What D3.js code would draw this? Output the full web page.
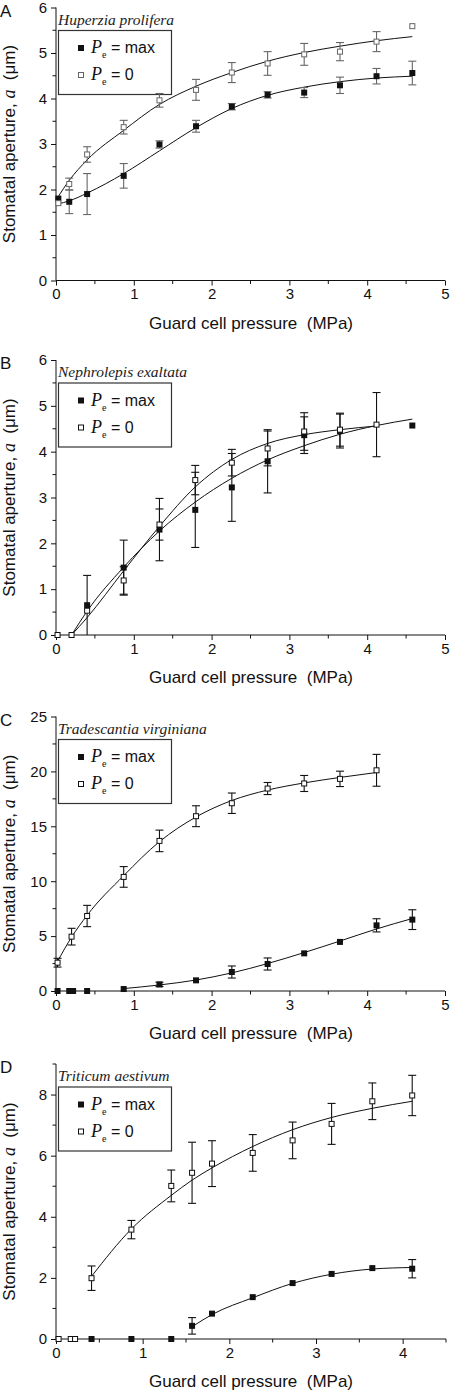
<!DOCTYPE html>
<html><head><meta charset="utf-8">
<script src="https://cdn.jsdelivr.net/npm/d3@7"></script>
<style>
html,body{margin:0;padding:0;background:#fff;}
svg{display:block;}
</style></head>
<body>
<svg id="chart" width="450" height="1392"></svg>
<script>
// ---------- Panel A: Huperzia prolifera ----------
const xA      = [0.03, 0.17, 0.40, 0.87, 1.33, 1.80, 2.26, 2.72, 3.19, 3.65, 4.12, 4.58];
const maxA    = [1.80, 1.73, 1.90, 2.30, 2.99, 3.39, 3.82, 4.08, 4.13, 4.29, 4.49, 4.56];
const maxErrA = [0, 0.26, 0.45, 0.27, 0.08, 0.13, 0.07, 0.07, 0.11, 0.18, 0.17, 0.26];
const zeroA   = [1.70, 2.12, 2.77, 3.37, 3.96, 4.19, 4.57, 4.77, 4.97, 5.03, 5.25, 5.59];
const zeroErrA= [0, 0.13, 0.17, 0.15, 0.15, 0.23, 0.22, 0.26, 0.24, 0.20, 0.22, 0];
const fitXA   = [0.02, 0.17, 0.40, 0.87, 1.33, 1.80, 2.26, 2.72, 3.19, 3.65, 4.12, 4.58];
const fitMaxA = [1.68, 1.75, 1.92, 2.35, 2.85, 3.36, 3.78, 4.07, 4.25, 4.37, 4.45, 4.49];
const fitZeroA= [1.82, 2.20, 2.65, 3.30, 3.87, 4.27, 4.57, 4.82, 5.01, 5.15, 5.27, 5.36];

// ---------- Panel B: Nephrolepis exaltata ----------
const xMaxB    = [0.40, 0.87, 1.33, 1.79, 2.26, 2.72, 3.19, 3.65, 4.58];
const maxB     = [0.65, 1.47, 2.30, 2.73, 3.22, 3.79, 4.36, 4.45, 4.57];
const maxErrB  = [0.65, 0.60, 0.68, 0.82, 0.74, 0.69, 0.40, 0.37, 0];
const xZeroB   = [0.02, 0.20, 0.40, 0.87, 1.33, 1.79, 2.26, 2.72, 3.19, 3.65, 4.12];
const zeroB    = [0, 0, 0.53, 1.19, 2.41, 3.38, 3.76, 4.07, 4.44, 4.48, 4.59];
const zeroErrB = [0, 0, 0, 0.30, 0.34, 0.32, 0.29, 0.38, 0.41, 0.36, 0.70];
const fitXMaxB = [0.20, 0.40, 0.87, 1.33, 1.79, 2.26, 2.72, 3.19, 3.65, 4.12, 4.58];
const fitMaxB  = [0.00, 0.52, 1.48, 2.27, 2.90, 3.42, 3.82, 4.13, 4.38, 4.57, 4.71];
const fitXZeroB= [0.20, 0.40, 0.87, 1.33, 1.79, 2.26, 2.72, 3.19, 3.65, 4.12];
const fitZeroB = [0.00, 0.38, 1.40, 2.37, 3.23, 3.83, 4.18, 4.37, 4.48, 4.56];

// ---------- Panel C: Tradescantia virginiana ----------
const xMaxC    = [0.02, 0.17, 0.22, 0.40, 0.87, 1.33, 1.80, 2.26, 2.72, 3.19, 3.65, 4.12, 4.58];
const maxC     = [0, 0, 0, 0, 0.18, 0.60, 0.97, 1.73, 2.46, 3.43, 4.47, 5.98, 6.50];
const maxErrC  = [0, 0, 0, 0, 0, 0.20, 0, 0.55, 0.55, 0, 0, 0.60, 0.90];
const xZeroC   = [0.02, 0.20, 0.40, 0.87, 1.33, 1.80, 2.26, 2.72, 3.19, 3.65, 4.12];
const zeroC    = [2.58, 4.95, 6.83, 10.39, 13.67, 15.92, 17.10, 18.44, 18.90, 19.32, 20.10];
const zeroErrC = [0.40, 0.76, 0.97, 0.94, 0.98, 0.95, 0.93, 0.55, 0.73, 0.70, 1.45];
const fitXMaxC = [0.87, 1.33, 1.80, 2.26, 2.72, 3.19, 3.65, 4.12, 4.58];
const fitMaxC  = [0.22, 0.55, 1.00, 1.65, 2.50, 3.50, 4.55, 5.65, 6.60];
const fitXZeroC= [0.02, 0.20, 0.40, 0.87, 1.33, 1.80, 2.26, 2.72, 3.19, 3.65, 4.12];
const fitZeroC = [2.70, 4.90, 6.90, 10.50, 13.60, 15.85, 17.35, 18.30, 18.95, 19.45, 19.90];

// ---------- Panel D: Triticum aestivum ----------
const xMaxD    = [0.41, 0.87, 1.33, 1.57, 1.80, 2.27, 2.73, 3.18, 3.65, 4.11];
const maxD     = [0, 0, 0, 0.43, 0.83, 1.37, 1.83, 2.13, 2.32, 2.30];
const maxErrD  = [0, 0, 0, 0.27, 0, 0, 0, 0, 0, 0.30];
const xZeroD   = [0.03, 0.17, 0.22, 0.41, 0.87, 1.33, 1.57, 1.80, 2.27, 2.73, 3.18, 3.65, 4.11];
const zeroD    = [0, 0, 0, 1.99, 3.58, 5.01, 5.44, 5.74, 6.09, 6.50, 7.04, 7.78, 7.97];
const zeroErrD = [0, 0, 0, 0.40, 0.30, 0.52, 1.00, 0.75, 0.60, 0.60, 0.67, 0.60, 0.66];
const fitXMaxD = [1.57, 1.80, 2.27, 2.73, 3.18, 3.65, 4.11];
const fitMaxD  = [0.40, 0.80, 1.35, 1.82, 2.12, 2.29, 2.34];
const fitXZeroD= [0.41, 0.87, 1.33, 1.57, 1.80, 2.27, 2.73, 3.18, 3.65, 4.11];
const fitZeroD = [2.05, 3.60, 4.70, 5.20, 5.60, 6.30, 6.85, 7.25, 7.55, 7.78];

// ---------- Tick labels / text ----------
const letters  = ["A", "B", "C", "D"];
const species  = ["Huperzia prolifera", "Nephrolepis exaltata", "Tradescantia virginiana", "Triticum aestivum"];
const xTicksAC = [0, 1, 2, 3, 4, 5];
const xTicksD  = [0, 1, 2, 3, 4];
const yTicksAB = [0, 1, 2, 3, 4, 5, 6];
const yTicksC  = [0, 5, 10, 15, 20, 25];
const yTicksD  = [0, 2, 4, 6, 8];

const SANS = "'Liberation Sans', Arial, sans-serif";
const SERIF = "'Liberation Serif', 'Times New Roman', serif";

const zip = (xs, ys, es) => xs.map((x, i) => ({x, y: ys[i], e: es ? es[i] : 0}));

const panels = [
  {top: 7.5, bottom: 280.5, xMax: 5, xEnd: 445, yMax: 6, xTicks: xTicksAC, yTicks: yTicksAB, yMinor: 0.5, xMinor: 0.5,
   max: zip(xA, maxA, maxErrA), zero: zip(xA, zeroA, zeroErrA),
   fitMax: zip(fitXA, fitMaxA), fitZero: zip(fitXA, fitZeroA), gray: true},
  {top: 360, bottom: 635, xMax: 5, xEnd: 445, yMax: 6, xTicks: xTicksAC, yTicks: yTicksAB, yMinor: 0.5, xMinor: 0.5,
   max: zip(xMaxB, maxB, maxErrB), zero: zip(xZeroB, zeroB, zeroErrB),
   fitMax: zip(fitXMaxB, fitMaxB), fitZero: zip(fitXZeroB, fitZeroB), gray: false},
  {top: 716.5, bottom: 991, xMax: 5, xEnd: 445, yMax: 25, xTicks: xTicksAC, yTicks: yTicksC, yMinor: 2.5, xMinor: 0.5,
   max: zip(xMaxC, maxC, maxErrC), zero: zip(xZeroC, zeroC, zeroErrC),
   fitMax: zip(fitXMaxC, fitMaxC), fitZero: zip(fitXZeroC, fitZeroC), gray: false},
  {top: 1064, bottom: 1339, xMax: 4.5, xEnd: 446, yMax: 9, xTicks: xTicksD, yTicks: yTicksD, yMinor: 1, xMinor: 0.5,
   max: zip(xMaxD, maxD, maxErrD), zero: zip(xZeroD, zeroD, zeroErrD),
   fitMax: zip(fitXMaxD, fitMaxD), fitZero: zip(fitXZeroD, fitZeroD), gray: false}
];

const svg = d3.select("#chart");
const left = 56;

panels.forEach((p, pi) => {
  const g = svg.append("g");
  const x = d3.scaleLinear().domain([0, p.xMax]).range([left, p.xEnd]);
  const y = d3.scaleLinear().domain([0, p.yMax]).range([p.bottom, p.top]);
  const ink = "#111";

  const xMinorVals = d3.range(0, p.xMax + 1e-9, p.xMinor).filter(v => !p.xTicks.some(t => Math.abs(t - v) < 1e-9));
  const yMinorVals = d3.range(0, p.yMax + 1e-9, p.yMinor).filter(v => !p.yTicks.some(t => Math.abs(t - v) < 1e-9));

  const xAxis = g.append("g").attr("transform", `translate(0,${p.bottom})`)
    .call(d3.axisBottom(x).tickValues(p.xTicks).tickSize(5).tickPadding(3).tickFormat(d3.format("d")));
  xAxis.append("g").selectAll("line").data(xMinorVals).join("line")
    .attr("x1", d => x(d)).attr("x2", d => x(d)).attr("y1", 0).attr("y2", 3.5).attr("stroke", ink);
  const yAxis = g.append("g").attr("transform", `translate(${left},0)`)
    .call(d3.axisLeft(y).tickValues(p.yTicks).tickSize(5).tickPadding(4).tickFormat(d3.format("d")));
  yAxis.append("g").selectAll("line").data(yMinorVals).join("line")
    .attr("y1", d => y(d)).attr("y2", d => y(d)).attr("x1", 0).attr("x2", -3.5).attr("stroke", ink);
  [xAxis, yAxis].forEach(a => {
    a.select(".domain").remove();
    a.selectAll(".tick line").attr("stroke", ink);
    a.selectAll("text").style("font-size", "15px").style("font-family", SANS).attr("fill", ink);
  });
  g.append("line").attr("x1", left).attr("x2", p.xEnd).attr("y1", p.bottom).attr("y2", p.bottom).attr("stroke", ink);
  g.append("line").attr("x1", left).attr("x2", left).attr("y1", p.top).attr("y2", p.bottom).attr("stroke", ink);

  // axis titles
  g.append("text").attr("x", 251).attr("y", p.bottom + 48)
    .attr("text-anchor", "middle").style("font-size", "17px").style("font-family", SANS)
    .style("white-space", "pre").attr("fill", ink)
    .text("Guard cell pressure  (MPa)");
  const yt = g.append("text").attr("transform", `translate(15,${(p.top + p.bottom) / 2}) rotate(-90)`)
    .attr("text-anchor", "middle").style("font-size", "17px").style("font-family", SANS)
    .style("white-space", "pre").attr("fill", ink);
  yt.append("tspan").text("Stomatal aperture, ");
  yt.append("tspan").style("font-family", SERIF).style("font-style", "italic").style("font-size", "18px").text("a");
  yt.append("tspan").text("  (μm)");

  // panel letter
  g.append("text").attr("x", 0).attr("y", p.top + 9).style("font-size", "17px")
    .style("font-family", SANS).attr("fill", ink).text(letters[pi]);

  // species
  g.append("text").attr("x", 58).attr("y", p.top + 17)
    .style("font-family", SERIF).style("font-style", "italic").style("font-size", "15.5px")
    .attr("fill", "#222").text(species[pi]);

  // legend
  const lt = p.top + 22.5;
  const lg = g.append("g");
  lg.append("rect").attr("x", 58.5).attr("y", lt + 0.5).attr("width", 113).attr("height", 64)
    .attr("fill", "#fff").attr("stroke", "#333").attr("stroke-width", 1.2);
  const rows = [{label: " = max", filled: true}, {label: " = 0", filled: false}];
  rows.forEach((r, ri) => {
    const cy = lt + 18 + ri * 27;
    if (r.filled) lg.append("rect").attr("x", 78).attr("y", cy - 3).attr("width", 6).attr("height", 6).attr("fill", ink);
    else lg.append("rect").attr("x", 78.5).attr("y", cy - 2.5).attr("width", 5).attr("height", 5)
      .attr("fill", "#fff").attr("stroke", p.gray ? "#666" : ink);
    const t = lg.append("text").attr("x", 91).attr("y", cy + 5).style("font-size", "16px")
      .style("font-family", SANS).style("white-space", "pre").attr("fill", ink);
    t.append("tspan").style("font-family", SERIF).style("font-style", "italic").style("font-size", "18px").text("P");
    t.append("tspan").style("font-family", SERIF).style("font-size", "10px").attr("dy", 5).text("e");
    t.append("tspan").attr("dy", -5).text(r.label);
  });

  // fit curves
  const line = d3.line().x(d => x(d.x)).y(d => y(d.y)).curve(d3.curveMonotoneX);
  [p.fitZero, p.fitMax].forEach(f => {
    g.append("path").attr("d", line(f)).attr("fill", "none").attr("stroke", ink).attr("stroke-width", 1);
  });

  // error bars
  const drawErr = (data, col) => {
    const eg = g.append("g").attr("stroke", col).attr("stroke-width", 1.1);
    data.filter(d => d.e > 0).forEach(d => {
      const cx = x(d.x);
      eg.append("line").attr("x1", cx).attr("x2", cx).attr("y1", y(Math.max(0, d.y - d.e))).attr("y2", y(d.y + d.e));
      eg.append("line").attr("x1", cx - 4).attr("x2", cx + 4).attr("y1", y(d.y + d.e)).attr("y2", y(d.y + d.e));
      if (d.y - d.e > 0) eg.append("line").attr("x1", cx - 4).attr("x2", cx + 4).attr("y1", y(d.y - d.e)).attr("y2", y(d.y - d.e));
    });
  };
  drawErr(p.zero, p.gray ? "#666" : ink);
  drawErr(p.max, p.gray ? "#666" : ink);

  // markers
  g.append("g").selectAll("rect").data(p.max).join("rect")
    .attr("x", d => x(d.x) - 3).attr("y", d => y(d.y) - 3).attr("width", 6).attr("height", 6).attr("fill", ink);
  g.append("g").selectAll("rect").data(p.zero).join("rect")
    .attr("x", d => x(d.x) - 2.5).attr("y", d => y(d.y) - 2.5).attr("width", 5).attr("height", 5)
    .attr("fill", "#fff").attr("stroke", p.gray ? "#666" : ink).attr("stroke-width", 1);
});
</script>
</body></html>
